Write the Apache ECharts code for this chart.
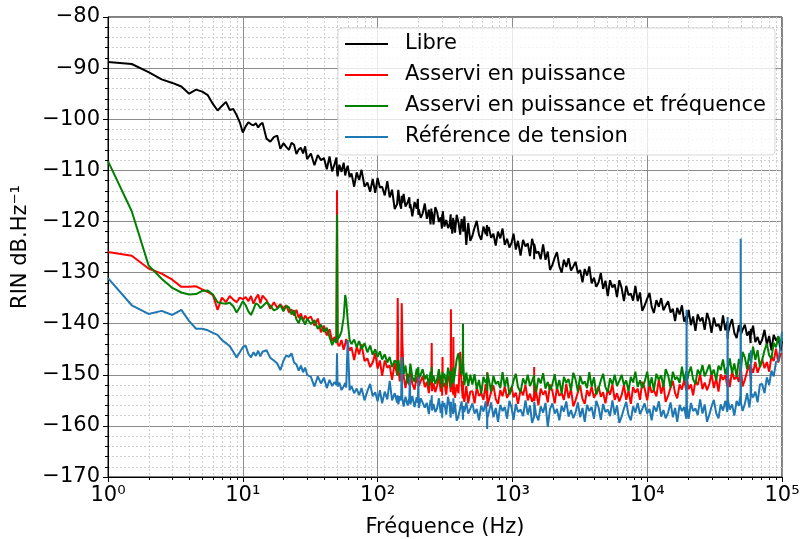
<!DOCTYPE html>
<html>
<head>
<meta charset="utf-8">
<script src="https://cdn.jsdelivr.net/npm/echarts@6/dist/echarts.min.js"></script>
<style>
html,body{margin:0;padding:0;background:#fff;}
#chart{width:802px;height:539px;}
</style>
</head>
<body>
<div id="chart"></div>
<script>
// Frequencies (Hz), shared by all series
const FREQ = [
  1, 1.5, 2, 2.5, 3, 3.5, 4, 4.5, 5, 5.5,
  6, 6.5, 7, 7.5, 8, 8.5, 9, 9.5, 10, 10.5,
  11, 11.5, 12, 12.5, 13, 13.5, 14, 15, 16, 17,
  18, 19, 20, 21, 22, 23, 24, 25, 26, 27,
  28, 29, 30, 32, 34, 36, 38, 40, 42, 44,
  46, 48, 49.5, 50, 50.5, 52, 54, 56, 57.5, 58.5,
  60, 62, 64, 67, 70, 73, 76, 80, 84, 88,
  92, 96, 100, 104, 108, 113, 118, 123, 128, 134,
  139.5, 141, 142.5, 146, 149.5, 151, 152.5, 156, 161, 167,
  172, 173.5, 175, 181, 188, 195, 199, 200.5, 202, 209,
  216, 224, 232, 240, 247, 250.5, 252, 253.5, 260, 268,
  276, 285, 294, 300, 301.5, 303, 304.5, 313, 323, 333,
  342, 348.5, 350, 351.5, 358, 363.5, 365, 366.5, 375, 386,
  398, 410, 420, 428.5, 430, 431.5, 440, 455, 470, 487,
  505, 524, 544, 565, 587, 610, 634, 648.5, 650, 651.5,
  668, 695, 723, 752, 782, 813, 845, 878, 913, 950,
  985, 1020, 1060, 1100, 1150, 1200, 1250, 1300, 1350, 1400,
  1448, 1450, 1452, 1500, 1560, 1620, 1690, 1760, 1830, 1900,
  1980, 2060, 2140, 2230, 2320, 2410, 2510, 2610, 2720, 2830,
  2940, 3060, 3180, 3310, 3440, 3580, 3720, 3870, 4030, 4190,
  4360, 4530, 4710, 4900, 5100, 5300, 5520, 5740, 5970, 6210,
  6460, 6720, 6990, 7270, 7560, 7860, 8170, 8500, 8840, 9190,
  9560, 10000, 10400, 10800, 11200, 11700, 12200, 12700, 13200, 13700,
  14300, 14900, 15500, 16100, 16700, 17400, 18100, 18800, 19500, 19600,
  19700, 20300, 21100, 21900, 22800, 23700, 24700, 25700, 26700, 27800,
  28900, 30000, 31200, 32500, 33800, 35100, 36500, 38000, 39300, 39500,
  39700, 41000, 42600, 44300, 46100, 47900, 49200, 49400, 49600, 51000,
  53000, 55100, 57300, 58500, 58700, 58900, 61000, 63400, 65900, 68600,
  71300, 74200, 77200, 80300, 83500, 86800, 90300, 93900, 97600, 100000
];

// Libre (dB/Hz)
const LIBRE = [
  -88.8, -89.2, -90.8, -92.2, -92.9, -93.6, -95.0, -94.2, -94.6, -95.3,
  -97.0, -98.3, -97.4, -96.6, -98.2, -98.0, -99.2, -100.6, -102.6, -101.4,
  -100.6, -101.0, -101.2, -100.8, -101.6, -101.0, -100.7, -103.8, -104.4, -103.5,
  -103.2, -105.8, -104.7, -105.4, -106.0, -104.6, -105.0, -106.8, -105.9, -105.6,
  -106.7, -105.3, -107.8, -106.7, -109.0, -107.0, -108.0, -107.6, -109.8, -107.3,
  -110.2, -108.7, -107.5, -110.2, -111.2, -108.9, -110.3, -108.5, -111.0, -110.0,
  -109.1, -111.3, -110.6, -113.2, -110.4, -111.9, -109.9, -113.2, -112.4, -114.2,
  -111.7, -114.4, -111.5, -113.4, -113.2, -114.9, -112.1, -115.3, -113.8, -117.6,
  -116.6, -115.1, -113.8, -116.5, -117.5, -115.0, -116.4, -114.6, -117.1, -116.3,
  -115.3, -117.4, -116.6, -119.0, -116.2, -117.5, -115.6, -118.7, -117.6, -119.3,
  -118.4, -116.5, -119.5, -117.7, -120.6, -117.5, -118.9, -118.2, -120.6, -117.2,
  -118.1, -120.1, -119.2, -121.4, -118.6, -120.0, -118.0, -121.0, -119.7, -121.3,
  -120.6, -118.6, -121.5, -119.7, -122.4, -119.3, -120.5, -119.7, -122.2, -118.7,
  -120.2, -122.6, -119.5, -121.2, -120.7, -122.0, -119.0, -124.6, -120.3, -123.8,
  -122.8, -121.2, -119.9, -122.6, -123.6, -121.0, -122.5, -120.7, -122.9, -121.9,
  -121.1, -123.2, -122.4, -124.7, -122.0, -123.3, -121.4, -124.6, -123.4, -125.1,
  -124.2, -122.4, -125.5, -123.8, -126.7, -123.6, -124.9, -124.3, -126.8, -123.4,
  -124.9, -127.4, -124.4, -126.2, -125.9, -127.4, -124.5, -127.5, -125.9, -129.5,
  -128.5, -127.1, -126.0, -128.8, -130.0, -127.5, -128.9, -127.2, -129.6, -128.8,
  -127.9, -130.1, -129.5, -131.9, -129.3, -130.6, -128.8, -132.1, -131.0, -132.8,
  -131.9, -130.1, -133.2, -131.6, -134.6, -131.5, -132.9, -132.3, -134.8, -131.5,
  -133.0, -135.6, -132.6, -134.4, -134.1, -135.5, -132.6, -135.6, -133.9, -137.5,
  -136.5, -135.1, -134.0, -136.7, -137.9, -135.4, -136.7, -135.0, -137.4, -136.5,
  -135.6, -137.8, -137.1, -139.5, -136.9, -138.2, -136.4, -139.6, -138.5, -140.2,
  -139.2, -137.3, -140.3, -138.6, -141.4, -138.2, -139.5, -138.8, -141.2, -137.9,
  -139.3, -141.8, -138.8, -140.5, -140.1, -141.4, -138.4, -141.3, -139.6, -143.0,
  -141.9, -140.4, -139.1, -141.8, -142.8, -140.3, -141.6, -139.8, -142.1, -141.2,
  -140.2, -142.3, -141.5, -143.8, -141.0, -142.2, -140.4, -143.6, -142.6, -144.1,
  -143.1, -141.2, -144.1, -142.4, -145.2, -142.2, -143.3, -142.6, -145.2, -143.4
];

// Asservi en puissance
const ASSERVI_P = [
  -126.0, -126.7, -129.2, -130.2, -131.4, -132.8, -132.8, -132.7, -133.3, -133.8,
  -134.4, -137.3, -134.9, -135.8, -134.6, -135.3, -135.8, -134.9, -135.2, -134.8,
  -135.6, -134.6, -136.1, -135.0, -134.3, -136.0, -134.5, -135.4, -137.1, -135.8,
  -136.9, -136.2, -137.0, -136.4, -137.8, -137.2, -138.4, -137.3, -138.9, -138.0,
  -139.5, -138.4, -139.1, -138.6, -140.4, -139.0, -141.7, -140.4, -142.3, -141.1,
  -143.4, -142.6, -143.6, -113.9, -143.9, -144.4, -143.2, -145.1, -144.0, -143.0,
  -143.1, -145.3, -144.6, -147.1, -144.5, -146.0, -144.0, -147.3, -146.8, -148.5,
  -147.6, -145.8, -148.8, -147.2, -150.2, -147.2, -148.6, -148.2, -151.0, -147.7,
  -150.0, -135.0, -148.4, -151.3, -149.4, -136.0, -143.2, -150.2, -152.6, -149.8,
  -152.0, -150.4, -149.1, -151.8, -152.9, -150.3, -151.6, -149.8, -152.2, -151.2,
  -150.3, -152.4, -151.4, -153.6, -150.8, -152.0, -143.8, -153.2, -151.7, -153.4,
  -152.2, -150.3, -153.3, -151.5, -154.1, -146.5, -152.3, -151.6, -153.9, -150.2,
  -151.0, -153.4, -137.2, -152.8, -150.6, -153.9, -142.6, -151.5, -154.5, -151.9,
  -153.6, -145.5, -152.0, -154.6, -151.2, -153.9, -155.3, -152.2, -155.6, -153.3,
  -153.2, -155.6, -152.5, -154.1, -153.6, -154.9, -151.8, -154.6, -149.5, -156.2,
  -155.0, -153.4, -152.1, -154.7, -155.7, -153.0, -154.2, -152.3, -154.5, -153.5,
  -152.4, -154.4, -153.5, -155.7, -152.9, -154.0, -152.0, -155.0, -153.7, -155.3,
  -154.2, -148.5, -155.1, -153.3, -156.0, -152.7, -153.9, -153.1, -155.4, -151.9,
  -153.2, -155.6, -152.5, -154.1, -153.6, -154.9, -151.8, -154.6, -152.8, -156.2,
  -155.0, -153.4, -152.1, -154.7, -155.7, -153.0, -154.2, -152.3, -154.5, -153.5,
  -152.3, -154.3, -153.4, -155.6, -152.8, -153.9, -151.9, -154.9, -153.6, -155.2,
  -154.0, -152.0, -154.9, -153.1, -155.7, -152.4, -153.5, -152.7, -154.9, -151.4,
  -152.6, -155.0, -151.9, -153.5, -153.0, -154.2, -150.9, -153.7, -151.9, -155.3,
  -154.1, -152.5, -151.2, -153.6, -154.6, -151.9, -152.9, -151.0, -153.1, -152.1,
  -150.9, -152.8, -151.9, -154.0, -151.2, -152.0, -149.9, -152.8, -151.5, -153.0,
  -151.8, -149.7, -152.6, -150.7, -153.3, -149.9, -151.0, -150.1, -152.3, -148.8,
  -150.1, -152.4, -149.3, -150.9, -150.3, -151.4, -148.2, -150.8, -149.0, -152.3,
  -151.0, -149.3, -148.0, -150.5, -151.3, -148.5, -149.6, -147.5, -149.6, -148.3,
  -147.0, -148.7, -147.5, -149.4, -146.4, -147.3, -144.9, -147.6, -145.9, -146.0
];

// Asservi en puissance et fréquence
const ASSERVI_PF = [
  -108.2, -118.0, -128.6, -131.2, -133.0, -133.9, -134.3, -134.2, -133.6, -133.5,
  -134.3, -135.8, -136.0, -136.1, -135.9, -136.6, -137.8, -136.8, -135.6, -136.4,
  -137.6, -138.3, -137.2, -136.0, -136.3, -137.0, -136.6, -135.8, -136.5, -137.4,
  -137.1, -136.4, -137.6, -136.5, -136.8, -138.2, -137.4, -139.2, -139.9, -138.6,
  -139.3, -140.2, -139.0, -140.1, -139.3, -141.0, -140.2, -141.6, -140.8, -142.6,
  -144.2, -143.0, -143.8, -118.7, -143.0, -142.6, -141.5, -138.8, -134.4, -135.5,
  -139.3, -143.2, -144.0, -143.1, -144.6, -143.4, -145.0, -143.8, -145.6, -144.3,
  -146.1, -145.0, -146.5, -145.4, -147.0, -146.0, -147.6, -146.5, -148.5, -147.2,
  -147.7, -150.2, -147.1, -148.9, -148.6, -149.9, -146.8, -149.8, -148.2, -151.7,
  -150.6, -149.0, -147.8, -150.4, -151.4, -148.8, -150.0, -148.5, -150.8, -149.9,
  -148.9, -150.9, -150.0, -152.2, -149.4, -150.5, -148.5, -151.5, -150.2, -151.8,
  -150.9, -148.9, -151.8, -150.0, -152.7, -149.4, -150.6, -149.8, -152.1, -148.6,
  -150.0, -152.4, -149.3, -150.9, -150.4, -151.7, -148.6, -151.4, -149.6, -147.0,
  -145.8, -148.5, -150.0, -146.0, -140.0, -147.5, -152.0, -149.6, -152.2, -150.0,
  -151.9, -149.9, -152.8, -151.0, -153.7, -150.4, -151.6, -150.8, -153.1, -149.6,
  -150.9, -153.3, -150.2, -151.8, -151.3, -152.6, -149.5, -152.3, -150.5, -153.9,
  -152.7, -151.1, -149.8, -152.4, -153.4, -150.7, -151.9, -150.0, -152.2, -151.2,
  -150.1, -152.1, -151.2, -153.4, -150.6, -151.7, -149.7, -152.7, -151.4, -153.0,
  -151.9, -149.9, -152.8, -151.0, -153.7, -150.4, -151.6, -150.8, -153.1, -149.6,
  -150.9, -153.3, -150.2, -151.8, -151.3, -152.6, -149.5, -152.3, -150.5, -153.9,
  -152.7, -151.1, -149.8, -152.4, -153.4, -150.7, -151.9, -150.0, -152.2, -151.2,
  -150.0, -152.0, -151.1, -153.2, -150.4, -151.5, -149.4, -152.4, -151.1, -152.6,
  -151.4, -149.4, -152.3, -150.5, -153.1, -149.8, -151.0, -150.1, -152.4, -148.9,
  -150.1, -152.5, -149.4, -150.9, -150.4, -151.6, -148.4, -151.1, -149.3, -152.7,
  -151.4, -149.7, -148.4, -150.9, -151.8, -149.0, -150.0, -148.1, -150.3, -149.2,
  -148.0, -150.0, -149.0, -151.1, -148.2, -149.1, -147.0, -149.9, -148.5, -150.1,
  -148.9, -146.8, -149.7, -147.8, -150.4, -146.9, -148.0, -147.0, -149.2, -145.5,
  -146.6, -148.9, -145.7, -147.3, -146.6, -147.7, -144.5, -147.1, -145.2, -148.5,
  -147.1, -145.2, -143.9, -146.2, -146.8, -143.8, -144.6, -142.4, -144.2, -142.8
];

// Référence de tension
const REF_TENSION = [
  -131.1, -136.4, -138.1, -137.5, -138.3, -137.3, -139.5, -141.0, -141.0, -141.3,
  -141.8, -142.2, -143.2, -143.8, -144.4, -145.5, -146.6, -145.6, -144.6, -144.3,
  -145.9, -146.6, -145.6, -146.3, -145.3, -146.4, -145.5, -145.2, -146.7, -147.2,
  -147.8, -149.1, -147.3, -146.2, -146.5, -145.8, -147.6, -148.0, -149.2, -148.2,
  -149.5, -148.6, -150.0, -150.4, -152.3, -150.3, -151.7, -150.6, -152.6, -151.0,
  -152.2, -151.4, -152.0, -145.8, -152.3, -151.5, -153.0, -152.3, -151.6, -152.5,
  -143.2, -153.0, -152.2, -153.6, -152.7, -154.0, -152.6, -155.0, -153.2, -151.8,
  -154.2, -153.4, -155.2, -153.0, -155.6, -153.3, -154.8, -151.2, -155.0, -153.6,
  -155.4, -154.0, -155.8, -154.2, -155.0, -146.5, -154.6, -156.2, -154.3, -156.0,
  -154.5, -150.4, -155.8, -154.2, -156.3, -154.4, -155.5, -150.4, -156.5, -154.6,
  -154.4, -156.4, -155.5, -157.7, -154.9, -156.0, -154.0, -157.0, -155.7, -157.3,
  -156.6, -154.6, -157.5, -155.7, -158.4, -155.1, -156.3, -155.5, -157.8, -154.3,
  -156.0, -158.4, -155.3, -156.9, -156.4, -157.7, -154.6, -157.4, -155.6, -159.0,
  -158.1, -156.5, -155.2, -157.8, -158.8, -156.1, -157.3, -155.4, -157.6, -156.6,
  -155.6, -157.6, -156.7, -158.9, -156.1, -157.2, -155.2, -158.2, -160.6, -158.5,
  -157.4, -155.4, -158.3, -156.5, -159.2, -155.9, -157.1, -156.3, -158.6, -155.1,
  -156.4, -158.8, -155.7, -157.3, -156.8, -158.1, -155.0, -157.8, -156.0, -159.4,
  -158.2, -156.6, -155.3, -157.9, -158.9, -156.2, -157.4, -155.5, -160.2, -156.7,
  -155.6, -157.6, -156.7, -158.9, -156.1, -157.2, -155.2, -158.2, -156.9, -158.5,
  -157.4, -155.4, -158.3, -156.5, -159.2, -155.9, -157.1, -156.3, -158.6, -155.1,
  -156.4, -158.8, -155.7, -157.3, -156.8, -158.1, -155.0, -157.8, -156.0, -159.4,
  -158.2, -156.6, -155.3, -157.9, -158.9, -156.2, -157.4, -155.5, -157.7, -156.7,
  -155.6, -157.6, -156.7, -158.9, -156.1, -157.2, -155.2, -158.2, -156.9, -158.5,
  -157.4, -155.4, -158.3, -156.5, -159.2, -155.9, -157.1, -156.3, -158.6, -137.3,
  -156.2, -158.6, -155.5, -157.1, -156.6, -157.9, -154.8, -157.6, -155.8, -159.2,
  -157.8, -156.2, -154.9, -157.5, -158.5, -155.8, -157.0, -155.1, -157.3, -138.7,
  -154.8, -156.8, -155.8, -158.0, -155.1, -156.1, -154.0, -123.4, -155.5, -157.1,
  -155.7, -153.6, -156.4, -154.4, -145.2, -153.6, -154.4, -153.3, -155.4, -151.9,
  -151.8, -153.6, -150.5, -152.0, -149.2, -150.3, -147.5, -147.2, -144.4, -141.6
];

const SERIES_NAMES = ['Libre', 'Asservi en puissance', 'Asservi en puissance et fréquence', 'Référence de tension'];
const SERIES_VALUES = [LIBRE, ASSERVI_P, ASSERVI_PF, REF_TENSION];
const SERIES_COLORS = ['#000000', '#ff0000', '#008000', '#1f77b4'];

const X_MIN = 1, X_MAX = 100000;
const Y_MIN = -170, Y_MAX = -80, Y_STEP = 10;

const SUP = {'0':'⁰','1':'¹','2':'²','3':'³','4':'⁴','5':'⁵','6':'⁶','7':'⁷','8':'⁸','9':'⁹'};
const FONT = 'DejaVu Sans';
const FS = 21;

const chart = echarts.init(document.getElementById('chart'), null, {renderer: 'canvas'});

const series = SERIES_NAMES.map((name, si) => ({
  name: name,
  type: 'line',
  data: FREQ.map((f, i) => [f, SERIES_VALUES[si][i]]),
  showSymbol: false,
  symbol: 'none',
  sampling: null,
  lineStyle: {color: SERIES_COLORS[si], width: 2},
  itemStyle: {color: SERIES_COLORS[si]},
  z: 3 + si,
  animation: false,
  emphasis: {disabled: true}
}));

chart.setOption({
  animation: false,
  textStyle: {fontFamily: FONT},
  grid: {left: 108, right: 20, top: 17, bottom: 62, containLabel: false, outerBoundsMode: 'none',
         show: true, borderColor: '#000', borderWidth: 1, backgroundColor: 'transparent'},
  legend: {
    orient: 'vertical',
    left: 338, top: 28,
    data: SERIES_NAMES,
    icon: 'rect',
    itemWidth: 43, itemHeight: 2,
    itemGap: 9,
    padding: [5, 9, 7, 7],
    backgroundColor: 'rgba(255,255,255,0.8)',
    borderColor: '#d8d8d8', borderWidth: 1, borderRadius: 4,
    textStyle: {fontFamily: FONT, fontSize: FS, color: '#000', lineHeight: 22, padding: [0, 0, 0, 12]},
    selectedMode: false
  },
  xAxis: {
    type: 'log', logBase: 10, min: X_MIN, max: X_MAX, splitNumber: 5,
    name: 'Fréquence (Hz)', nameLocation: 'middle', nameGap: 40,
    nameTextStyle: {fontFamily: FONT, fontSize: FS, color: '#000'},
    axisLine: {show: true, onZero: false, lineStyle: {color: '#000', width: 1}},
    axisTick: {show: true, length: 5, lineStyle: {color: '#000'}},
    axisLabel: {
      fontFamily: FONT, fontSize: FS, color: '#000', margin: 8,
      formatter: v => '10' + String(Math.round(Math.log10(v))).split('').map(c => SUP[c]).join('')
    },
    splitLine: {show: true, lineStyle: {color: '#8c8c8c', width: 1}}
  },
  yAxis: {
    type: 'value', min: Y_MIN, max: Y_MAX, interval: Y_STEP,
    name: 'RIN dB.Hz⁻¹', nameLocation: 'middle', nameGap: 65, nameRotate: 90,
    nameTextStyle: {fontFamily: FONT, fontSize: FS, color: '#000'},
    axisLine: {show: true, lineStyle: {color: '#000', width: 1}},
    axisTick: {show: true, length: 5, lineStyle: {color: '#000'}},
    minorTick: {show: true, splitNumber: 5, length: 3, lineStyle: {color: '#000'}},
    axisLabel: {
      fontFamily: FONT, fontSize: FS, color: '#000', margin: 8,
      formatter: v => (v < 0 ? '−' : '') + Math.abs(v)
    },
    splitLine: {show: true, lineStyle: {color: '#8c8c8c', width: 1}},
    minorSplitLine: {show: true, lineStyle: {color: '#cfcfcf', width: 1, type: [2, 2]}}
  },
  series: series
});

// minor log gridlines and ticks on the x axis, placed through the axis scale
const yTop = chart.convertToPixel({yAxisIndex: 0}, Y_MAX);
const yBot = chart.convertToPixel({yAxisIndex: 0}, Y_MIN);
const g = [];
for (let d = 1; d < X_MAX; d *= 10) {
  for (let m = 2; m <= 9; m++) {
    const x = Math.round(chart.convertToPixel({xAxisIndex: 0}, m * d)) + 0.5;
    g.push({type: 'line', silent: true, z: 1, shape: {x1: x, y1: yTop, x2: x, y2: yBot},
            style: {stroke: '#cfcfcf', lineWidth: 1, lineDash: [2, 2]}});
    g.push({type: 'line', silent: true, z: 1, shape: {x1: x, y1: yBot, x2: x, y2: yBot + 3},
            style: {stroke: '#000', lineWidth: 1}});
  }
}
chart.setOption({graphic: g});
</script>
</body>
</html>
